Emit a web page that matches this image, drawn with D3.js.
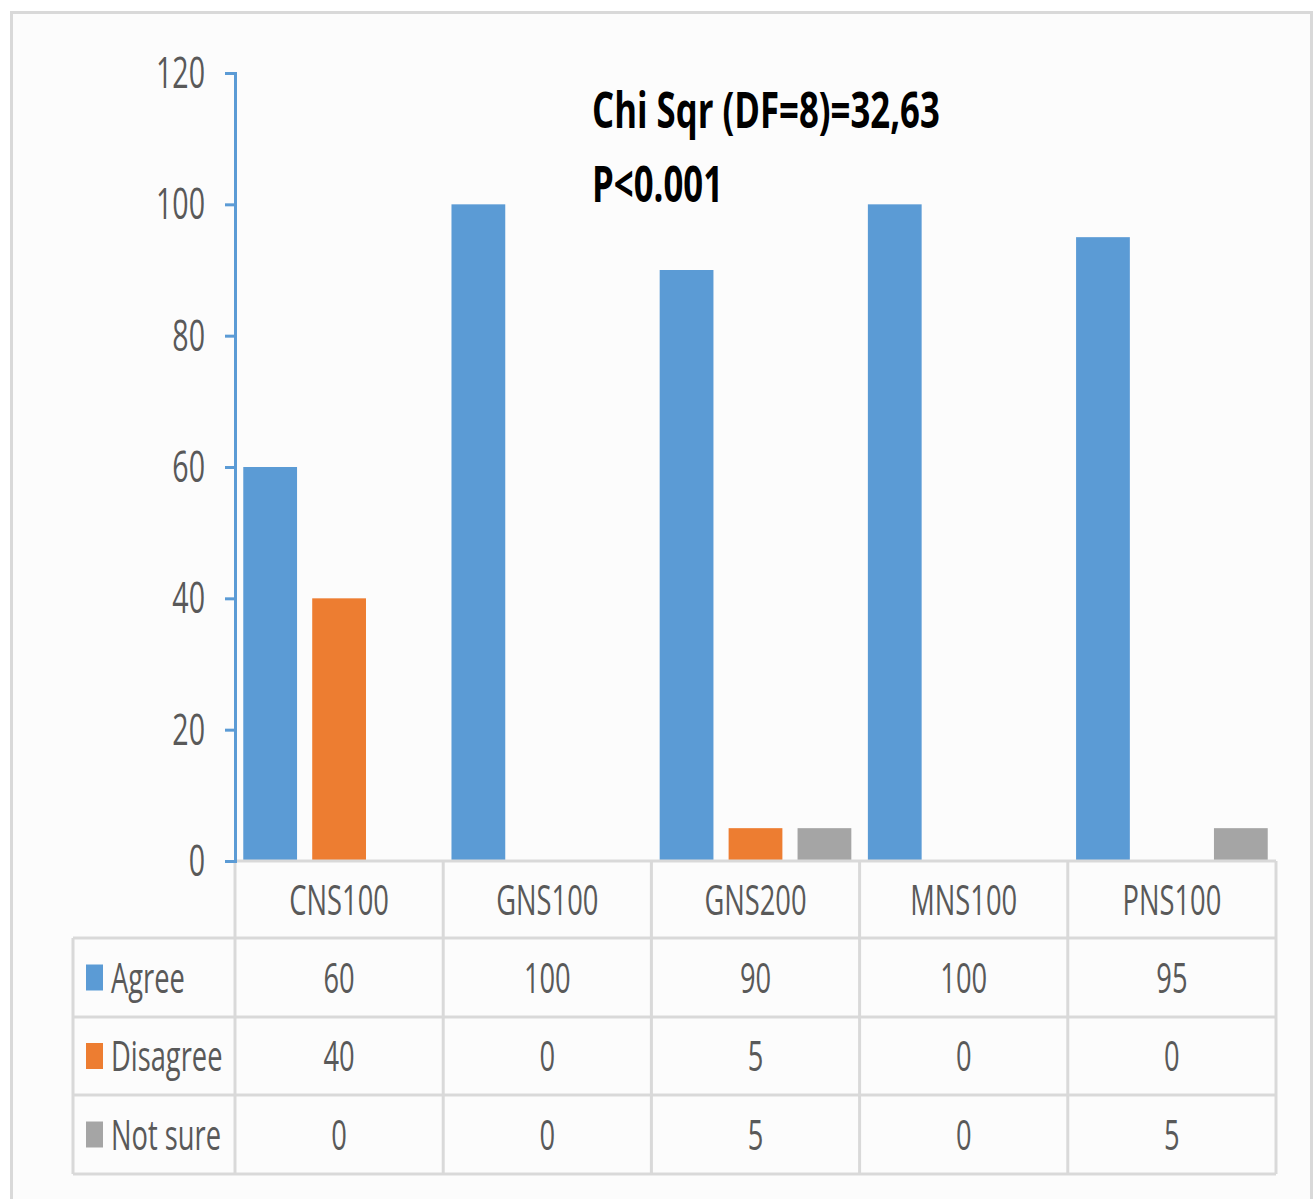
<!DOCTYPE html>
<html>
<head>
<meta charset="utf-8">
<script src="https://cdn.jsdelivr.net/npm/d3@7"></script>
<style>
  html, body { margin: 0; padding: 0; background: #ffffff; }
  svg { display: block; }
  text { font-family: "Open Sans", "Liberation Sans", sans-serif; fill: #595959; }
</style>
</head>
<body>
<svg id="chart" width="1315" height="1199"></svg>
<script>
// Responses per group
const categories = ["CNS100", "GNS100", "GNS200", "MNS100", "PNS100"];
const seriesNames = ["Agree", "Disagree", "Not sure"];
const agree    = [60, 100, 90, 100, 95];
const disagree = [40, 0, 5, 0, 0];
const notSure  = [0, 0, 5, 0, 5];
const yTicks   = [0, 20, 40, 60, 80, 100, 120];
const annotation = ["Chi Sqr (DF=8)=32,63", "P<0.001"];

const seriesValues = [agree, disagree, notSure];
const colors = ["#5b9bd5", "#ed7d31", "#a5a5a5"];

const svg = d3.select("#chart");
const SX = 0.65; // horizontal squeeze for the condensed lettering

// outer panel
svg.append("rect")
  .attr("x", 11.5).attr("y", 12.5)
  .attr("width", 1300).attr("height", 1200)
  .attr("fill", "#fcfcfc")
  .attr("stroke", "#d9d9d9").attr("stroke-width", 3);

const plotLeft = 235, plotRight = 1276, plotTop = 73, plotBottom = 861;
const tableLeft = 73;
const rowEdges = [861, 938, 1017, 1095, 1174];

const y = d3.scaleLinear().domain([0, 120]).range([plotBottom, plotTop]);
const x0 = d3.scaleBand().domain(categories).range([plotLeft, plotRight]).padding(0);
const x1 = d3.scaleBand().domain(seriesNames).range([0, x0.bandwidth()])
  .paddingInner(0.22).paddingOuter(0.12);

function label(parent, x, yPos, str, opts = {}) {
  const g = parent.append("g")
    .attr("transform", `translate(${x},${yPos}) scale(${opts.sx || SX},1)`);
  g.append("text")
    .attr("text-anchor", opts.anchor || "middle")
    .attr("font-size", opts.size || 42)
    .attr("font-weight", opts.weight || 400)
    .style("fill", opts.fill || "#595959")
    .text(str);
  return g;
}

// bars
const bars = svg.append("g");
categories.forEach((cat, i) => {
  seriesNames.forEach((s, j) => {
    const v = seriesValues[j][i];
    if (v <= 0) return;
    bars.append("rect")
      .attr("x", x0(cat) + x1(s))
      .attr("y", y(v))
      .attr("width", x1.bandwidth())
      .attr("height", y(0) - y(v))
      .attr("fill", colors[j]);
  });
});

// data table grid
const grid = svg.append("g").attr("stroke", "#d9d9d9").attr("stroke-width", 3).attr("fill", "none");
grid.append("line").attr("x1", plotLeft).attr("x2", plotRight).attr("y1", rowEdges[0]).attr("y2", rowEdges[0]);
rowEdges.slice(1).forEach(r => {
  grid.append("line").attr("x1", tableLeft).attr("x2", plotRight).attr("y1", r).attr("y2", r);
});
grid.append("line").attr("x1", tableLeft).attr("x2", tableLeft).attr("y1", rowEdges[1]).attr("y2", rowEdges[4]);
categories.forEach(cat => {
  const xx = x0(cat);
  grid.append("line").attr("x1", xx).attr("x2", xx).attr("y1", rowEdges[0]).attr("y2", rowEdges[4]);
});
grid.append("line").attr("x1", plotRight).attr("x2", plotRight).attr("y1", rowEdges[0]).attr("y2", rowEdges[4]);

// y axis
const yAxis = d3.axisLeft(y).tickValues(yTicks).tickSize(10).tickSizeOuter(10).tickFormat("");
const ax = svg.append("g").attr("transform", `translate(${plotLeft},0)`).call(yAxis);
ax.select(".domain").attr("stroke", "#5b9bd5").attr("stroke-width", 3);
ax.selectAll(".tick line").attr("stroke", "#5b9bd5").attr("stroke-width", 3);
yTicks.forEach(t => {
  label(svg, 205, y(t) + 15, String(t), { anchor: "end", size: 44 });
});

// header row: categories
categories.forEach(cat => {
  label(svg, x0(cat) + x0.bandwidth() / 2, 915, cat, { size: 42 });
});

// value rows with legend keys
seriesNames.forEach((s, j) => {
  const top = rowEdges[j + 1], bottom = rowEdges[j + 2];
  const mid = (top + bottom) / 2;
  svg.append("rect")
    .attr("x", 86).attr("y", mid - 13)
    .attr("width", 17).attr("height", 26)
    .attr("fill", colors[j]);
  label(svg, 111, mid + 15, s, { anchor: "start", size: 42 });
  categories.forEach((cat, i) => {
    label(svg, x0(cat) + x0.bandwidth() / 2, mid + 15, String(seriesValues[j][i]), { size: 42 });
  });
});

// test statistic
label(svg, 592, 128, annotation[0], { anchor: "start", size: 50, weight: 700, fill: "#000000", sx: 0.695 });
label(svg, 592, 202, annotation[1], { anchor: "start", size: 50, weight: 700, fill: "#000000", sx: 0.695 });
</script>
</body>
</html>
